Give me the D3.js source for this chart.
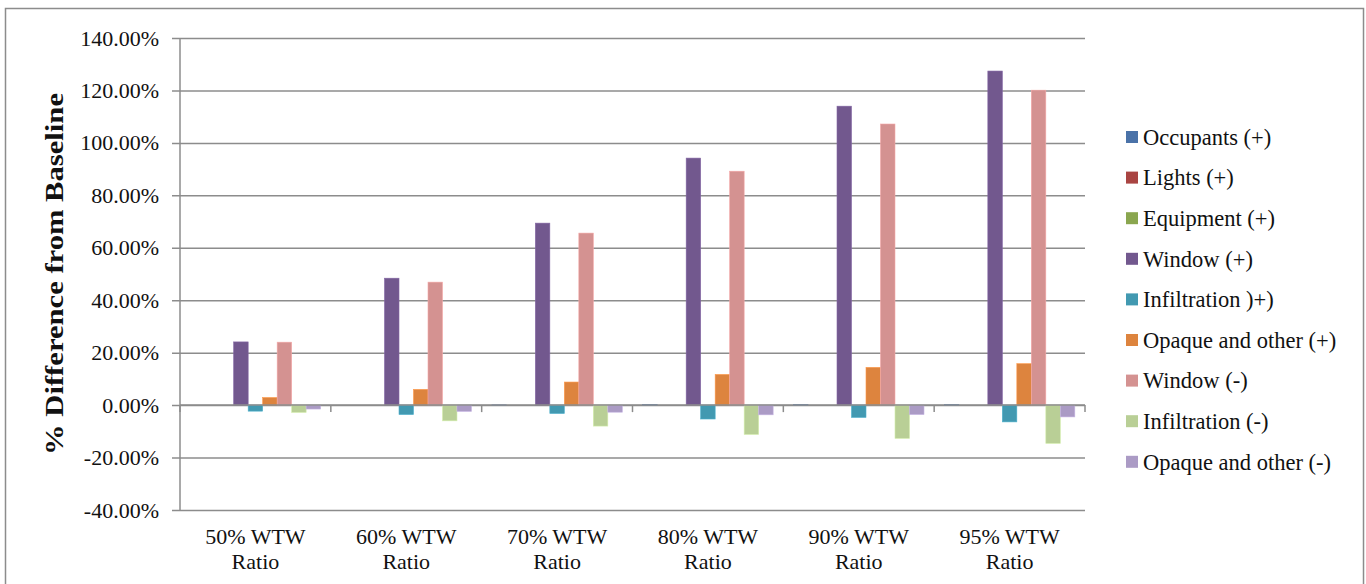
<!DOCTYPE html>
<html>
<head>
<meta charset="utf-8">
<script src="https://cdn.jsdelivr.net/npm/d3@7"></script>
<style>
  body { margin: 0; background: #fff; }
  svg text { font-family: "Liberation Serif", serif; }
</style>
</head>
<body>
<svg id="chart" width="1366" height="584"></svg>
<script>
// data
var categories = ["50% WTW|Ratio", "60% WTW|Ratio", "70% WTW|Ratio", "80% WTW|Ratio", "90% WTW|Ratio", "95% WTW|Ratio"];
var seriesNames = ["Occupants (+)", "Lights (+)", "Equipment (+)", "Window (+)", "Infiltration )+)",
                   "Opaque and other (+)", "Window (-)", "Infiltration (-)", "Opaque and other (-)"];
var seriesColors = ["#4a72a8", "#a94442", "#8aa64f", "#72588e", "#4299b1", "#dd843e", "#d49291", "#b9cf96", "#ab9bc5"];

var occupants   = [0.0, 0.0, 0.1, 0.3, 0.3, 0.3];
var lights      = [0.0, 0.0, 0.0, 0.0, 0.0, 0.0];
var equipment   = [0.0, 0.0, 0.0, 0.0, 0.0, 0.0];
var windowPlus  = [24.1, 48.4, 69.4, 94.2, 114.0, 127.4];
var infilPlus   = [-2.3, -3.6, -3.2, -5.3, -4.7, -6.4];
var opaquePlus  = [2.9, 6.0, 8.8, 11.7, 14.4, 15.8];
var windowMinus = [24.0, 46.9, 65.6, 89.2, 107.2, 120.1];
var infilMinus  = [-2.8, -6.0, -8.0, -11.2, -12.7, -14.6];
var opaqueMinus = [-1.5, -2.4, -2.7, -3.7, -3.6, -4.5];

var yTicks = [-40, -20, 0, 20, 40, 60, 80, 100, 120, 140];

var seriesValues = [occupants, lights, equipment, windowPlus, infilPlus, opaquePlus, windowMinus, infilMinus, opaqueMinus];

var svg = d3.select("#chart"),
    margin = {top: 38, left: 180},
    width = 905,
    height = 472,
    g = svg.append("g").attr("transform", "translate(" + margin.left + "," + margin.top + ")");

// outer frame
svg.append("rect")
    .attr("x", 5.5).attr("y", 8.5)
    .attr("width", 1358).attr("height", 590)
    .attr("fill", "none").attr("stroke", "#8c8c8c").attr("stroke-width", 1.5);

var x0 = d3.scaleBand()
    .domain(categories)
    .range([0, width])
    .paddingInner(0.135)
    .paddingOuter(0.0675);

var x1 = d3.scaleBand()
    .domain(d3.range(seriesNames.length))
    .range([0, x0.bandwidth()]);

var y = d3.scaleLinear()
    .domain([-40, 140])
    .range([height, 0]);

// gridlines + y axis
var yAxis = d3.axisLeft(y)
    .tickValues(yTicks)
    .tickSize(-width)
    .tickFormat(function(d) { return d.toFixed(2) + "%"; });

var gy = g.append("g").call(yAxis);
gy.attr("font-family", null);
gy.select(".domain").remove();
gy.selectAll(".tick line").attr("x1", -8).attr("stroke", "#8c8c8c").attr("stroke-width", 1.5);
gy.selectAll(".tick text").attr("x", -21).attr("font-size", "22px").attr("fill", "#111");

g.append("line")
    .attr("x1", 0).attr("x2", 0).attr("y1", 0).attr("y2", height)
    .attr("stroke", "#8c8c8c").attr("stroke-width", 1.5);

// bars
var groups = g.selectAll(".grp")
    .data(categories)
  .enter().append("g")
    .attr("transform", function(d) { return "translate(" + x0(d) + ",0)"; });

groups.selectAll("rect")
    .data(function(d, i) { return seriesValues.map(function(s, k) { return {k: k, v: s[i]}; }); })
  .enter().append("rect")
    .attr("x", function(d) { return x1(d.k); })
    .attr("width", x1.bandwidth())
    .attr("y", function(d) { return y(Math.max(0, d.v)); })
    .attr("height", function(d) { return Math.abs(y(d.v) - y(0)); })
    .attr("fill", function(d) { return seriesColors[d.k]; })
    .attr("stroke", function(d) { return d3.color(seriesColors[d.k]).brighter(0.4); })
    .attr("stroke-width", 0.6);

// category axis on zero line
var catTicks = d3.range(categories.length + 1).map(function(i) { return i * width / categories.length; });
g.append("line")
    .attr("x1", 0).attr("x2", width).attr("y1", y(0)).attr("y2", y(0))
    .attr("stroke", "#8c8c8c").attr("stroke-width", 1.5);
g.selectAll(".ctick")
    .data(catTicks)
  .enter().append("line")
    .attr("x1", function(d) { return d; }).attr("x2", function(d) { return d; })
    .attr("y1", y(0)).attr("y2", y(0) + 7)
    .attr("stroke", "#8c8c8c").attr("stroke-width", 1.5);

var labels = g.selectAll(".clab")
    .data(categories)
  .enter().append("text")
    .attr("text-anchor", "middle")
    .attr("font-size", "22px")
    .attr("fill", "#111")
    .attr("transform", function(d) { return "translate(" + (x0(d) + x0.bandwidth() / 2) + "," + (height + 34) + ")"; });
labels.each(function(d) {
  var parts = d.split("|"), t = d3.select(this);
  parts.forEach(function(p, i) {
    t.append("tspan").attr("x", 0).attr("dy", i ? 25 : 0).text(p);
  });
});

// y title
svg.append("text")
    .attr("transform", "translate(63," + (margin.top + y(50)) + ") rotate(-90)")
    .attr("text-anchor", "middle")
    .attr("font-size", "26px")
    .attr("font-weight", "bold")
    .attr("fill", "#111")
    .attr("textLength", 362)
    .attr("lengthAdjust", "spacingAndGlyphs")
    .text("% Difference from Baseline");

// legend
var legend = svg.append("g").attr("transform", "translate(1126,137)");
var item = legend.selectAll("g")
    .data(seriesNames)
  .enter().append("g")
    .attr("transform", function(d, i) { return "translate(0," + (i * 40.6) + ")"; });
item.append("rect")
    .attr("x", 0).attr("y", -6).attr("width", 12).attr("height", 12)
    .attr("fill", function(d, i) { return seriesColors[i]; });
item.append("text")
    .attr("x", 17).attr("y", 0).attr("dy", "0.35em")
    .attr("font-size", "22.5px")
    .attr("fill", "#111")
    .text(function(d) { return d; });
</script>
</body>
</html>
